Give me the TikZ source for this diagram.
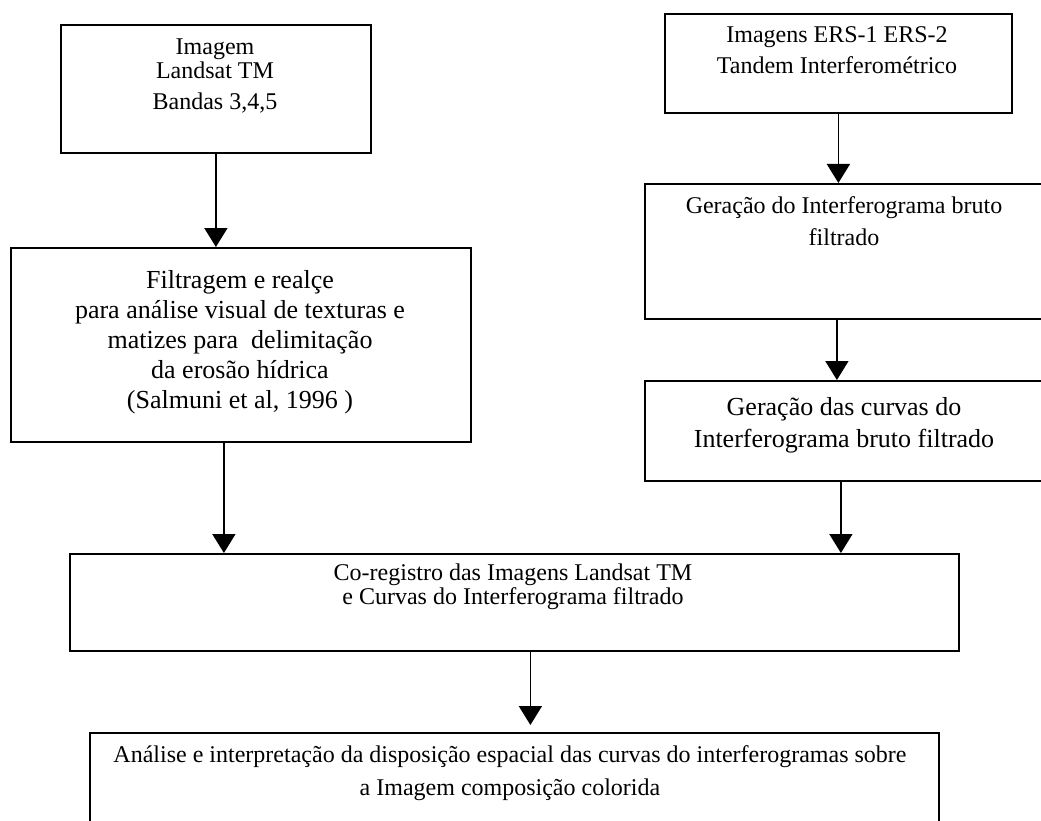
\documentclass[tikz,border=0pt]{standalone}
\usepackage{fontspec}
\setmainfont{Liberation Serif}
\usetikzlibrary{arrows.meta,positioning}

\tikzset{
  caixa/.style={draw, rectangle, line width=1.8pt, anchor=north west, inner sep=0pt},
  texto/.style={align=center, anchor=base, inner sep=0pt, font=\fontsize{24}{31}\selectfont},
  seta/.style={line width=1.8pt, -{Triangle[length=19pt,width=23pt]}},
}

\begin{document}
\begin{tikzpicture}[x=1pt,y=-1pt]
		\useasboundingbox (0,0) rectangle (1041,821);
		\clip (0,0) rectangle (1041,821);
		% Caixas
		\node[caixa, minimum width=310, minimum height=128] (img) at (60,24) {};
		\node[caixa, minimum width=460, minimum height=194] (filt) at (10,247) {};
		\node[caixa, minimum width=347, minimum height=99] (ers) at (664,13) {};
		\node[caixa, minimum width=402, minimum height=135] (gerint) at (644,183) {};
		\node[caixa, minimum width=402, minimum height=100] (gercur) at (644,380) {};
		\node[caixa, minimum width=889, minimum height=97] (coreg) at (69,553) {};
		\node[caixa, minimum width=849, minimum height=120] (analise) at (89,732) {};
		% Textos (ancorados na linha de base da ultima linha)
		\node[texto] (imgtxt) at (215,110) {Imagem\\[-7pt]Landsat TM\\Bandas 3,4,5};
		\node[texto, font=\fontsize{26}{30}\selectfont] (filttxt) at (240,408) {Filtragem e realçe\\para análise visual de texturas e\\matizes para~ delimitação\\da erosão hídrica\\(Salmuni et al, 1996 )};
		\node[texto] (erstxt) at (837,74) {Imagens ERS-1 ERS-2\\Tandem Interferométrico};
		\node[texto, font=\fontsize{24}{32}\selectfont] (gerinttxt) at (844,245) {Geração do Interferograma bruto\\filtrado};
		\node[texto, font=\fontsize{26}{32}\selectfont] (gercurtxt) at (844,447) {Geração das curvas do\\Interferograma bruto filtrado};
		\node[texto, font=\fontsize{24}{22}\selectfont] (coregtxt) at (513,604) {Co-registro das Imagens Landsat TM\\e Curvas do Interferograma filtrado};
		\node[texto, font=\fontsize{24}{33}\selectfont] (analisetxt) at (510,795) {Análise e interpretação da disposição espacial das curvas do interferogramas sobre\\a Imagem composição colorida};
		% Setas
		\draw[seta] (img.south) -- (img.south |- filt.north);
		\draw[seta] ([xshift=-17]filt.south) -- ([xshift=-17]filt.south |- coreg.north);
		\draw[seta] (ers.south) -- (ers.south |- gerint.north);
		\draw[seta] ([xshift=-9]gerint.south) -- ([xshift=-9]gerint.south |- gercur.north);
		\draw[seta] ([xshift=-5]gercur.south) -- ([xshift=-5]gercur.south |- coreg.north);
		\draw[seta, shorten >=7pt] ([xshift=16]coreg.south) -- ([xshift=16]coreg.south |- analise.north);
	\end{tikzpicture}
\end{document}
